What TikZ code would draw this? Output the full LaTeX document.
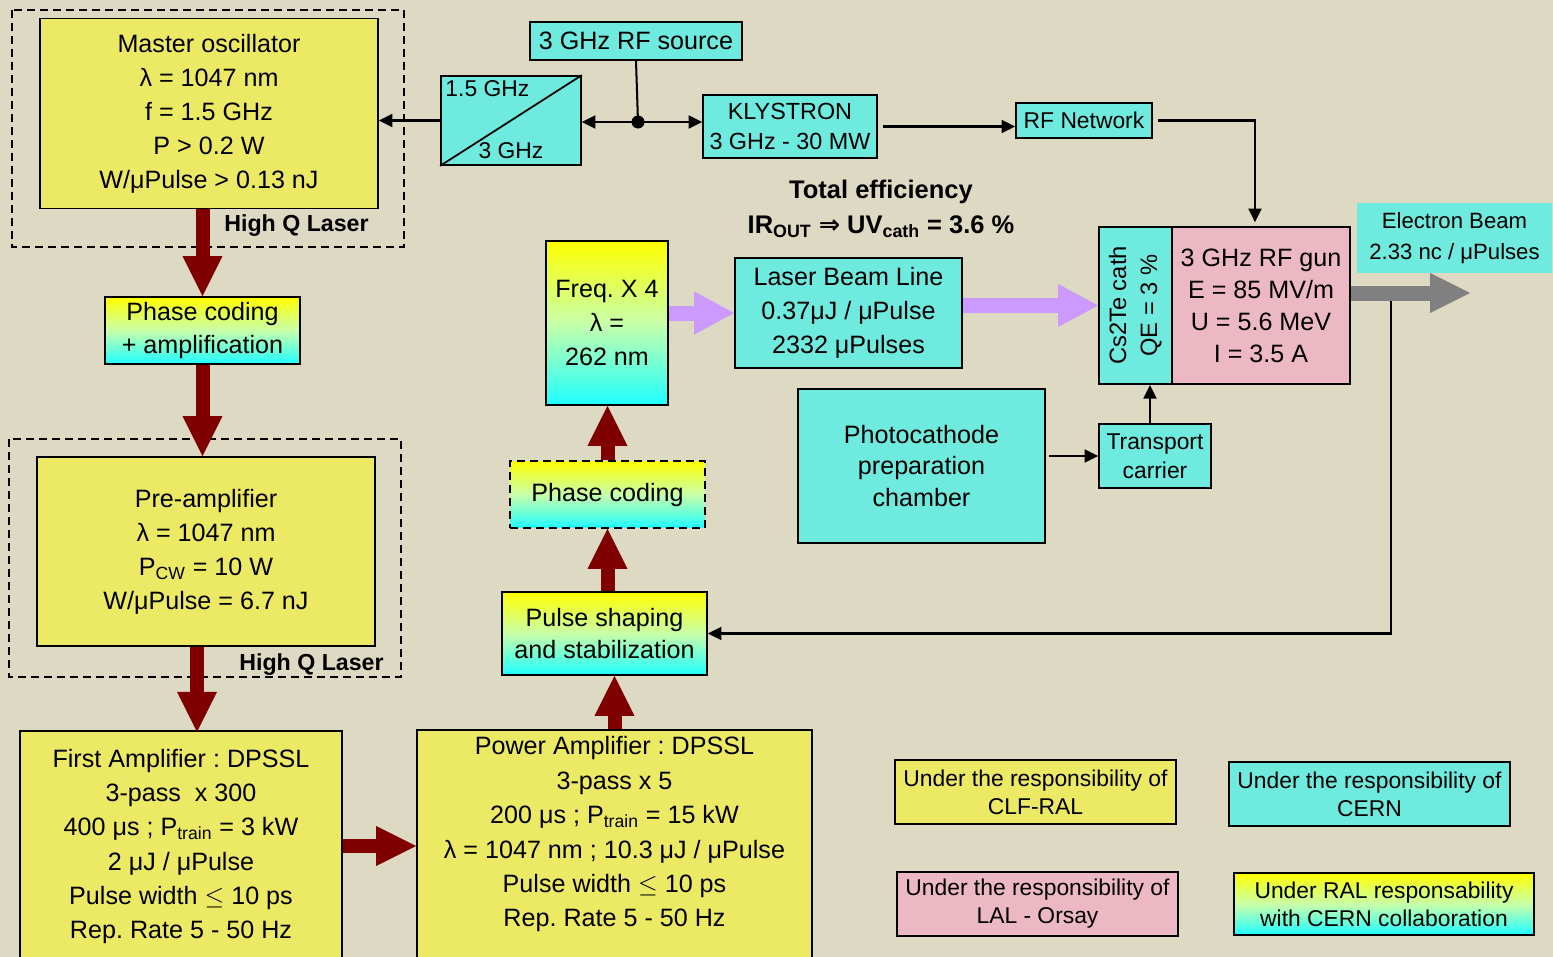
\documentclass[tikz,border=0pt]{standalone}
\usepackage{fontspec}
\setmainfont{Liberation Sans}
\newfontfamily\arrowfont{DejaVu Sans}
\usepackage{tikz}
\usetikzlibrary{arrows.meta,calc}
\frenchspacing
\definecolor{bgsand}{RGB}{221,217,195}
\definecolor{boxyel}{RGB}{236,233,100}
\definecolor{boxcyan}{RGB}{111,234,222}
\definecolor{boxpink}{RGB}{236,184,196}
\definecolor{gradyel}{RGB}{255,255,0}
\definecolor{gradmid}{RGB}{200,255,170}
\definecolor{gradcyan}{RGB}{30,255,255}
\definecolor{laserred}{RGB}{128,0,0}
\definecolor{uvviolet}{RGB}{204,153,255}
\definecolor{beamgray}{RGB}{128,128,128}
\tikzstyle{box}=[draw=black, line width=1pt, align=center, inner sep=0pt, font=\fontsize{14.3}{19.4}\selectfont]
\tikzstyle{ybox}=[box, fill=boxyel]
\tikzstyle{cbox}=[box, fill=boxcyan]
\tikzstyle{pbox}=[box, fill=boxpink]
\tikzstyle{gbox}=[box, top color=gradyel, bottom color=gradcyan, middle color=gradmid]
\tikzstyle{legend}=[box, minimum width=5.62cm, minimum height=1.28cm, font=\fontsize{13}{16}\selectfont]
\tikzstyle{frame}=[line width=1.1pt, dash pattern=on 0.16cm off 0.1cm]
\tikzstyle{fat}=[line width=0.28cm, draw=laserred, -{Triangle[length=0.8cm,width=0.8cm,line width=0pt]}]
\tikzstyle{uv}=[line width=0.3cm, draw=uvviolet, -{Triangle[length=0.8cm,width=0.86cm,line width=0pt]}]
\tikzstyle{beam}=[line width=0.3cm, draw=beamgray, -{Triangle[length=0.8cm,width=0.8cm,line width=0pt]}]
\tikzstyle{wire}=[line width=1.15pt, -{Triangle[length=0.27cm,width=0.26cm]}]
\tikzstyle{hq}=[inner sep=0pt, font=\fontsize{13.2}{16}\selectfont\bfseries]
\tikzstyle{eff}=[inner sep=0pt, font=\fontsize{14.5}{17}\selectfont\bfseries]

\begin{document}
\begin{tikzpicture}[x=0.02cm,y=-0.02cm]
\useasboundingbox (0,0) rectangle (1553,957);
\fill[bgsand] (0,0) rectangle (1553,957);
\draw[frame] (12,10) rectangle (404,247);
\draw[frame] (9,439) rectangle (401,677);

\node[ybox, minimum width=6.76cm, minimum height=3.8cm] (mo) at (209,113.5) {Master oscillator\\λ = 1047 nm\\f = 1.5 GHz\\P > 0.2 W\\W/μPulse > 0.13 nJ};
\node[hq, anchor=east] (hq1) at (369,226) {High Q Laser};
\node[cbox, minimum width=4.24cm, minimum height=0.76cm] (src) at (636,41) {3 GHz RF source};
\node[cbox, minimum width=2.8cm, minimum height=1.78cm,
  label={[anchor=north west, inner sep=0.1cm, font=\fontsize{13}{16}\selectfont]north west:1.5 GHz},
  label={[anchor=south, inner sep=0.14cm, font=\fontsize{13}{16}\selectfont]south:3 GHz}] (div) at (511,120.5) {};
\draw[line width=1pt] (div.south west) -- (div.north east);
\node[cbox, minimum width=3.48cm, minimum height=1.26cm, font=\fontsize{13.3}{17.5}\selectfont] (kly) at (790,126.5) {KLYSTRON\\3 GHz - 30 MW};
\node[cbox, minimum width=2.72cm, minimum height=0.7cm, font=\fontsize{13}{16}\selectfont] (net) at (1084,120.5) {RF Network};
\coordinate (dot) at (638,122);

\node[eff] (eff1) at (881,192) {Total efficiency};
\node[eff] (eff2) at (881,227) {IR\textsubscript{OUT} {\arrowfont ⇒} UV\textsubscript{cath} = 3.6 \%};

\node[gbox, minimum width=2.44cm, minimum height=3.28cm] (freq) at (607,323) {Freq. X 4\\λ =\\262 nm};
\node[cbox, minimum width=4.54cm, minimum height=2.2cm] (lbl) at (848.5,313) {Laser Beam Line\\0.37μJ / μPulse\\2332 μPulses};
\node[cbox, minimum width=1.46cm, minimum height=3.14cm, font=\fontsize{13.5}{17.6}\selectfont] (cath) at (1135.5,305.5) {\rotatebox{90}{\begin{tabular}{@{}c@{}}Cs2Te cath\\QE = 3 \%\end{tabular}}};
\node[pbox, minimum width=3.56cm, minimum height=3.14cm, font=\fontsize{14.3}{18.2}\selectfont] (gun) at (1261,305.5) {3 GHz RF gun\\E = 85 MV/m\\U = 5.6 MeV\\I = 3.5 A};
\node[fill=boxcyan, align=center, minimum width=3.9cm, minimum height=1.4cm, inner sep=0pt, font=\fontsize{12.6}{17.6}\selectfont] (ebeam) at (1454.5,238) {Electron Beam\\2.33 nc / μPulses};
\node[cbox, minimum width=4.94cm, minimum height=3.08cm, font=\fontsize{14.3}{18.2}\selectfont] (pcc) at (921.5,466) {Photocathode\\preparation\\chamber};
\node[cbox, minimum width=2.24cm, minimum height=1.28cm, font=\fontsize{13}{16.5}\selectfont] (trans) at (1155,456) {Transport\\carrier};

\node[gbox, minimum width=3.9cm, minimum height=1.34cm, font=\fontsize{14.3}{18.8}\selectfont] (pca) at (202.5,330.5) {Phase coding\\+ amplification};
\node[ybox, minimum width=6.76cm, minimum height=3.78cm] (pre) at (206,551.5) {Pre-amplifier\\λ = 1047 nm\\P\textsubscript{CW} = 10 W\\W/μPulse = 6.7 nJ};
\node[hq, anchor=east] (hq2) at (384,665) {High Q Laser};
\node[ybox, minimum width=6.44cm, minimum height=4.62cm] (fa) at (181,846.5) {First Amplifier : DPSSL\\3-pass~ x 300\\400 μs ; P\textsubscript{train} = 3 kW\\2 μJ / μPulse\\Pulse width $\leq$ 10 ps\\Rep. Rate 5 - 50 Hz};
\node[ybox, minimum width=7.9cm, minimum height=4.64cm,
  label={[anchor=north, align=center, inner sep=0pt, yshift=-0.14cm, font=\fontsize{14.3}{19.6}\selectfont]north:Power Amplifier : DPSSL\\3-pass x 5\\200 μs ; P\textsubscript{train} = 15 kW\\λ = 1047 nm ; 10.3 μJ / μPulse\\Pulse width $\leq$ 10 ps\\Rep. Rate 5 - 50 Hz}] (pa) at (614.5,846) {};
\node[gbox, minimum width=4.1cm, minimum height=1.66cm, font=\fontsize{14.3}{17.8}\selectfont] (ps) at (604.5,633.5) {Pulse shaping\\and stabilization};
\node[gbox, frame, minimum width=3.9cm, minimum height=1.34cm] (pc) at (607.5,494.5) {Phase coding};

\node[legend, fill=boxyel] (l1) at (1035.5,792) {Under the responsibility of\\CLF-RAL};
\node[legend, fill=boxcyan] (l2) at (1369.5,794) {Under the responsibility of\\CERN};
\node[legend, fill=boxpink] (l3) at (1037.5,904) {Under the responsibility of\\LAL - Orsay};
\node[legend, top color=gradyel, bottom color=gradcyan, middle color=gradmid, minimum width=6cm, minimum height=1.24cm] (l4) at (1384,904) {Under RAL responsability\\with CERN collaboration};

\draw[fat] (pca.north |- mo.south) -- (pca.north);
\draw[fat] (pca.south) -- (pca.south |- pre.north);
\draw[fat] ($(pre.south)+(-9,0)$) -- ($(pre.south)+(-9,85)$);
\draw[fat] (fa.east |- pa.west) -- (pa.west);
\draw[fat] (pa.north) -- (pa.north |- ps.south);
\draw[fat] (pc.south |- ps.north) -- (pc.south);
\draw[fat] (pc.north) -- (pc.north |- freq.south);

\draw[uv] (freq.east |- lbl.west) -- (lbl.west);
\draw[uv] (lbl.east |- cath.west) -- (cath.west);

\coordinate (eb) at (1470,293);
\coordinate (tap) at (1391,300);
\draw[wire] (tap) |- (ps.east);
\draw[beam] (gun.east |- eb) -- (eb);

\draw[wire] (div.west) -- (div.west -| mo.east);
\draw[line width=1.15pt] (src.south) -- (dot);
\draw[wire] (dot) -- (dot -| div.east);
\draw[wire] (dot) -- (dot -| kly.west);
\fill (dot) circle (0.13cm);
\draw[wire, shorten <=0.1cm] (kly.east) -- (kly.east -| net.west);
\draw[wire, shorten <=0.1cm, shorten >=0.08cm] (net.east) -| ($(gun.north)+(-6,0)$);
\draw[wire, shorten <=0.06cm] (pcc.east |- trans.west) -- (trans.west);
\draw[wire] ($(trans.north)+(-5,0)$) -- ($(trans.north)+(-5,-38)$);
\end{tikzpicture}
\end{document}
